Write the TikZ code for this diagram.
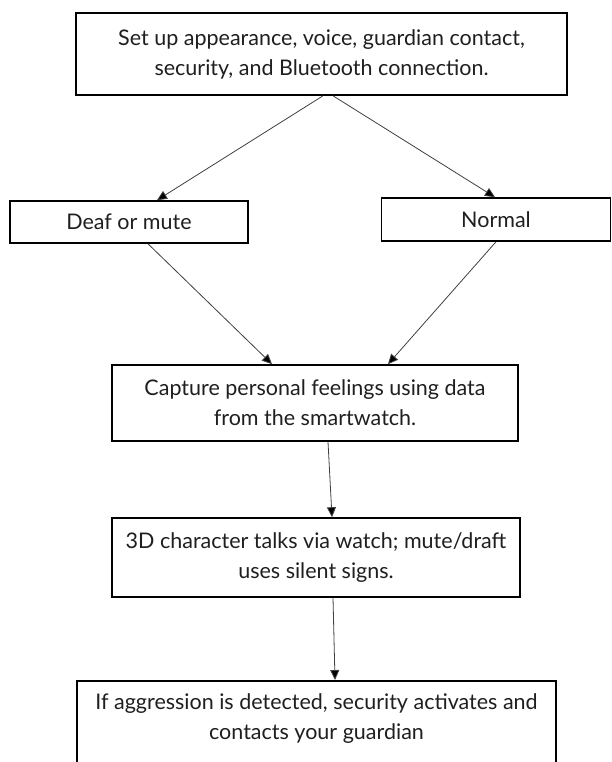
\documentclass[tikz,border=0pt]{standalone}
\usepackage{fontspec}
\setmainfont{Lato}
\usetikzlibrary{arrows.meta,calc}
\begin{document}
\begin{tikzpicture}[x=1pt,y=-1pt,
  box/.style={draw=black, line width=1.6pt, fill=white, inner sep=0pt, align=center,
    text=black!88, font=\fontsize{21.5}{30}\selectfont},
  txt/.style={inner sep=0pt, align=center, text=black!88, font=\fontsize{21.5}{30}\selectfont},
  conn/.style={draw=black!75, line width=0.8pt, -{Triangle[length=10pt,width=9pt,fill=black]}}]
\useasboundingbox (0,0) rectangle (611,762);
\clip (0,0) rectangle (611,762);
\fill[white] (0,0) rectangle (611,762);

\node[box, minimum width=491pt, minimum height=82pt] (setup) at (321.5,54)
  {Set up appearance, voice, guardian contact,\\ security, and Bluetooth connection.};
\node[box, minimum width=238pt, minimum height=42pt] (deaf) at (129,222) {Deaf or mute};
\node[box, minimum width=229pt, minimum height=43pt] (normal) at (496,219.5) {Normal};
\node[box, minimum width=406pt, minimum height=76pt] (capture) at (315,403)
  {Capture personal feelings using data\\ from the smartwatch.};
\node[box, minimum width=408pt, minimum height=79pt] (talk) at (316,557.5)
  {3D character talks via watch; mute/draft\\ uses silent signs.};
\node[box, minimum width=479pt, minimum height=110pt, anchor=north] (alert) at (316.5,680) {};
\node[txt] (alerttext) at (316.5,719)
  {If aggression is detected, security activates and\\ contacts your guardian};

\draw[conn] ($(setup.south)+(1.5,0)$) -- ($(deaf.north)+(28,0)$);
\draw[conn] ($(setup.south)+(11.5,0)$) -- ($(normal.north)+(-1,0)$);
\draw[conn] ($(deaf.south)+(19,0)$) -- ($(capture.north)+(-43,0)$);
\draw[conn] ($(normal.south)+(0,0)$) -- ($(capture.north)+(73,0)$);
\draw[conn] ($(capture.south)+(13,0)$) -- ($(talk.north)+(16,0)$);
\draw[conn] ($(talk.south)+(17,0)$) -- ($(alert.north)+(18.5,0)$);
\end{tikzpicture}
\end{document}
